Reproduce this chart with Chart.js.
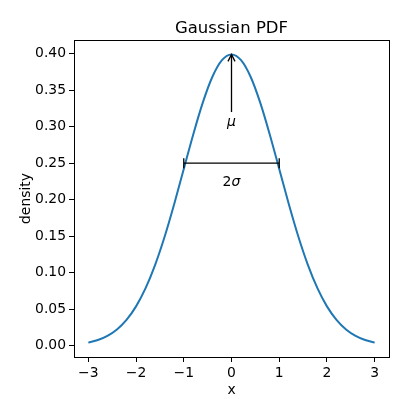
<!DOCTYPE html>
<html><head><meta charset="utf-8">
<script src="https://cdn.jsdelivr.net/npm/chart.js@4"></script>
<style>html,body{margin:0;padding:0;background:#fff}#wrap{width:398px;height:399px}</style>
</head><body><div id="wrap"><canvas id="c" width="398" height="399"></canvas></div>
<script>
const xValues = [-3.0,-2.8,-2.6,-2.4,-2.2,-2.0,-1.8,-1.6,-1.4,-1.2,-1.0,-0.8,-0.6,-0.4,-0.2,0.0,0.2,0.4,0.6,0.8,1.0,1.2,1.4,1.6,1.8,2.0,2.2,2.4,2.6,2.8,3.0];
const density = [0.0044,0.0079,0.0136,0.0224,0.0355,0.0540,0.0790,0.1109,0.1497,0.1942,0.2420,0.2897,0.3332,0.3683,0.3910,0.3989,0.3910,0.3683,0.3332,0.2897,0.2420,0.1942,0.1497,0.1109,0.0790,0.0540,0.0355,0.0224,0.0136,0.0079,0.0044];
const xTicks = [-3,-2,-1,0,1,2,3];
const yTicks = [0.00,0.05,0.10,0.15,0.20,0.25,0.30,0.35,0.40];
const titleText = "Gaussian PDF";
const xLabel = "x";
const yLabel = "density";
// annotations (data coordinates)
const muArrow = {x:0, yFrom:0.32, yTo:0.3989, labelY:0.306, label:"μ"};
const sigmaBar = {xFrom:-1, xTo:1, y:0.25, labelY:0.224, label:"2σ"};

const FONT = "'DejaVu Sans', sans-serif";

const deco = {
  id:'deco',
  afterDraw(chart){
    const ctx = chart.ctx, ca = chart.chartArea, sx = chart.scales.x, sy = chart.scales.y;
    ctx.save();
    // frame
    ctx.strokeStyle = '#000'; ctx.lineWidth = 1;
    ctx.strokeRect(Math.round(ca.left)+0.5, Math.round(ca.top)+0.5, Math.round(ca.right-ca.left), Math.round(ca.bottom-ca.top));
    // title
    ctx.fillStyle = '#000';
    ctx.font = `16.5px ${FONT}`;
    ctx.textAlign = 'center'; ctx.textBaseline = 'alphabetic';
    ctx.fillText(titleText, (ca.left+ca.right)/2, ca.top - 7);
    // mu arrow
    const ax = sx.getPixelForValue(muArrow.x);
    const y1 = sy.getPixelForValue(muArrow.yFrom), y2 = sy.getPixelForValue(muArrow.yTo);
    ctx.lineWidth = 1.3; ctx.strokeStyle = '#000';
    ctx.beginPath(); ctx.moveTo(ax, y1); ctx.lineTo(ax, y2); ctx.stroke();
    ctx.beginPath(); ctx.moveTo(ax-3.5, y2+7); ctx.lineTo(ax, y2); ctx.lineTo(ax+3.5, y2+7); ctx.stroke();
    ctx.font = `italic 14px ${FONT}`;
    ctx.textBaseline = 'middle';
    ctx.fillText(muArrow.label, ax, sy.getPixelForValue(muArrow.labelY));
    // sigma bar
    const bx1 = sx.getPixelForValue(sigmaBar.xFrom), bx2 = sx.getPixelForValue(sigmaBar.xTo), by = sy.getPixelForValue(sigmaBar.y);
    ctx.beginPath(); ctx.moveTo(bx1, by); ctx.lineTo(bx2, by);
    ctx.moveTo(bx1, by-5); ctx.lineTo(bx1, by+5);
    ctx.moveTo(bx2, by-5); ctx.lineTo(bx2, by+5); ctx.stroke();
    const ly = sy.getPixelForValue(sigmaBar.labelY);
    ctx.font = `14px ${FONT}`;
    const w2 = ctx.measureText(sigmaBar.label[0]).width;
    ctx.font = `italic 14px ${FONT}`;
    const ws = ctx.measureText(sigmaBar.label.slice(1)).width;
    const startX = (bx1+bx2)/2 - (w2+ws)/2;
    ctx.textAlign = 'left';
    ctx.font = `14px ${FONT}`;
    ctx.fillText(sigmaBar.label[0], startX, ly);
    ctx.font = `italic 14px ${FONT}`;
    ctx.fillText(sigmaBar.label.slice(1), startX + w2, ly);
    ctx.restore();
  }
};

new Chart(document.getElementById('c'), {
  type:'line',
  data:{ datasets:[{ data: xValues.map((x,i)=>({x, y:density[i]})), borderColor:'#1f77b4', borderWidth:2, pointRadius:0, cubicInterpolationMode:'monotone', fill:false }]},
  options:{
    responsive:false, animation:false,
    layout:{padding:{left:18, right:9, top:40, bottom:0}},
    plugins:{legend:{display:false}, tooltip:{enabled:false}, title:{display:false}},
    scales:{
      x:{ type:'linear', min:-3.3, max:3.3,
        afterBuildTicks(s){ s.ticks = xTicks.map(v=>({value:v})); },
        afterFit(s){ s.height = 42; },
        grid:{ drawOnChartArea:false, drawTicks:true, tickLength:5, color:'#000', tickColor:'#000' },
        border:{display:false},
        ticks:{ color:'#000', font:{family:FONT, size:13.9}, padding:3, maxRotation:0, callback:(v)=>String(v).replace('-', '\u2212') },
        title:{ display:true, text:xLabel, color:'#000', font:{family:FONT, size:13.9}, padding:{top:0,bottom:0} }
      },
      y:{ type:'linear', min:-0.0153, max:0.4186,
        afterBuildTicks(s){ s.ticks = yTicks.map(v=>({value:v})); },
        afterFit(s){ s.width = 56; },
        grid:{ drawOnChartArea:false, drawTicks:true, tickLength:5, color:'#000', tickColor:'#000' },
        border:{display:false},
        ticks:{ color:'#000', font:{family:FONT, size:13.9}, padding:3, callback:(v)=>Number(v).toFixed(2) },
        title:{ display:true, text:yLabel, color:'#000', font:{family:FONT, size:13.9}, padding:{top:0,bottom:0} }
      }
    }
  },
  plugins:[deco]
});
</script>
</body></html>
